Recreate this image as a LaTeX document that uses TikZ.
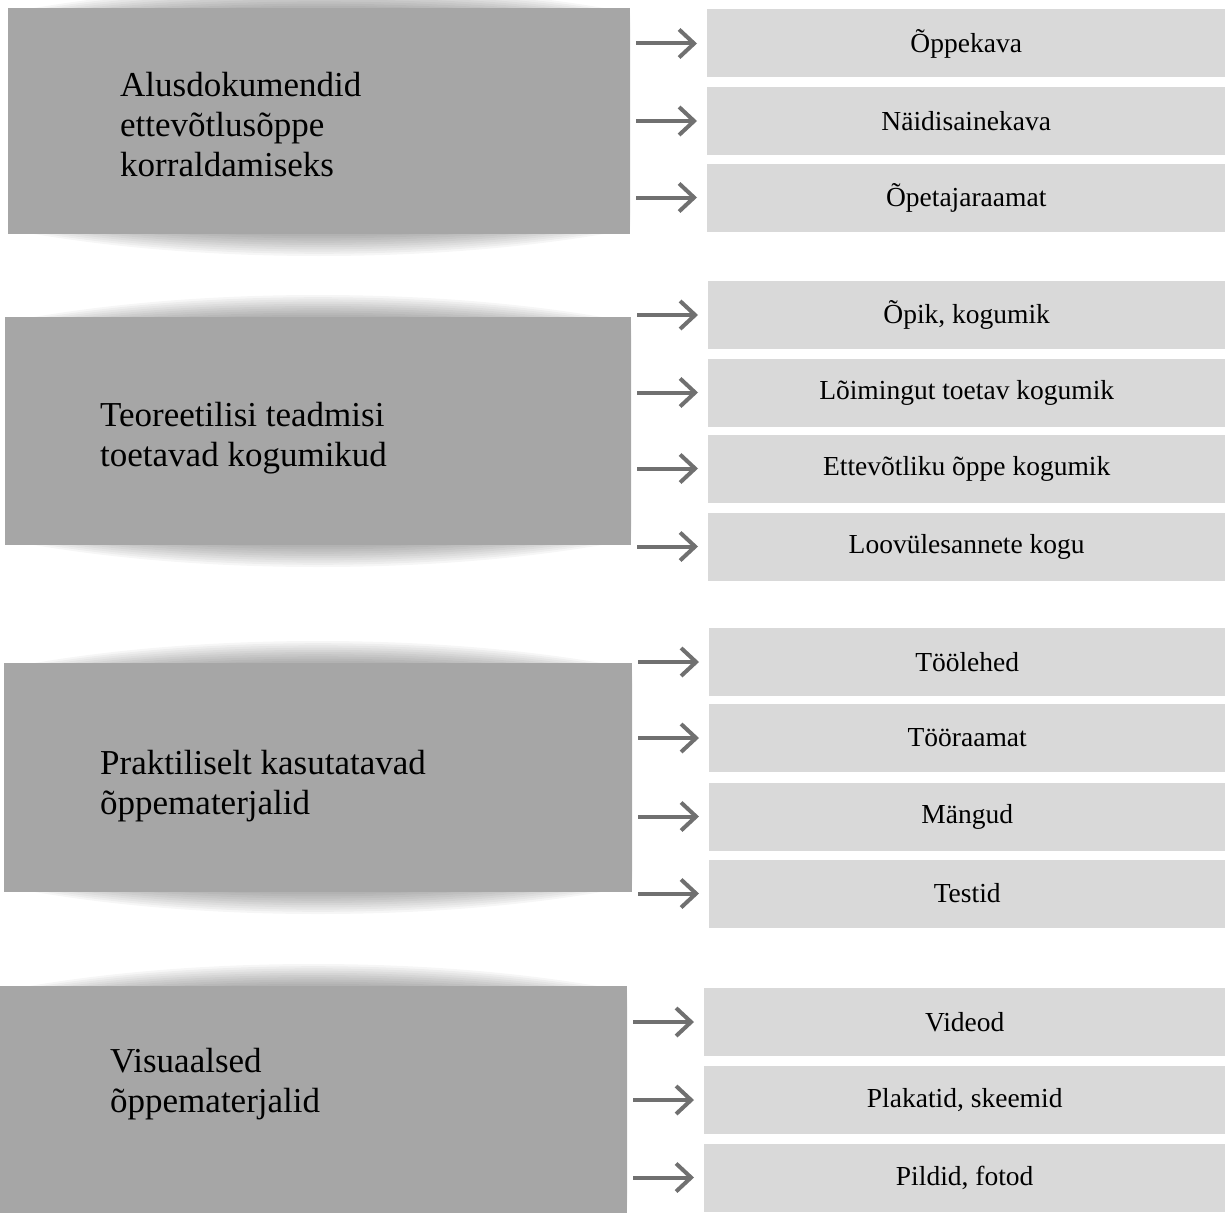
\documentclass[tikz,border=0pt]{standalone}
\usepackage{fontspec}
\setmainfont{Liberation Serif}
\usetikzlibrary{arrows.meta}
\definecolor{boxgray}{HTML}{A6A6A6}
\definecolor{itemgray}{HTML}{D9D9D9}
\definecolor{arrowgray}{HTML}{707070}

\begin{document}
\begin{tikzpicture}[x=1pt,y=-1pt,
  lbox/.style={fill=boxgray, inner sep=0pt},
  halo/.style={black, fill opacity=0.035},
  rbox/.style={fill=itemgray, inner sep=0pt, minimum height=68pt, font=\fontsize{27.5}{31}\selectfont},
  ltext/.style={anchor=west, align=left, inner sep=0pt, font=\fontsize{35}{40}\selectfont},
  arr/.style={arrowgray, line width=4pt, shorten <=6pt, shorten >=10pt, -{Straight Barb[length=15pt,width=28pt]}}]

\useasboundingbox (0,0) rectangle (1225,1212);

\foreach \n/\cx/\cy/\w/\h in {L1/319/121/622/226, L2/318/431/626/228, L3/318/777.5/628/229, L4/313.5/1100/627/228} {
  \begin{scope}
    \clip (\cx-\w/2,\cy-\h/2-40) rectangle (\cx+\w/2,\cy+\h/2+40);
    \foreach \i in {0,...,9} {
      \pgfmathsetmacro\ry{\h/2+22-2.2*\i}
      \fill[halo] (\cx,\cy) ellipse (520pt and \ry pt);
    }
  \end{scope}
  \node[lbox, minimum width=\w pt, minimum height=\h pt] (\n) at (\cx,\cy) {};
}

\node[ltext] (T1) at (120,125) {Alusdokumendid\\ettevõtlusõppe\\korraldamiseks};
\node[ltext] (T2) at (100,438) {Teoreetilisi teadmisi\\toetavad kogumikud};
\node[ltext] (T3) at (100,786) {Praktiliselt kasutatavad\\õppematerjalid};
\node[ltext] (T4) at (110,1084) {Visuaalsed\\õppematerjalid};

\foreach \n/\x/\y/\t in {R11/707/43.5/Õppekava, R12/707/121/Näidisainekava, R13/707/197.5/Õpetajaraamat,
    R21/708/315/{Õpik, kogumik}, R22/708/392.5/Lõimingut toetav kogumik, R23/708/468.5/Ettevõtliku õppe kogumik, R24/708/546.5/Loovülesannete kogu,
    R31/709/662/Töölehed, R32/709/738/Tööraamat, R33/709/816.5/Mängud, R34/709/893.5/Testid,
    R41/704/1022/Videod, R42/704/1100/{Plakatid, skeemid}, R43/704/1177.5/{Pildid, fotod}}
  \node[rbox, anchor=west, minimum width={(1225-\x)*1pt}] (\n) at (\x,\y) {\t};

\foreach \l/\r in {L1/R11, L1/R12, L1/R13, L2/R21, L2/R22, L2/R23, L2/R24,
    L3/R31, L3/R32, L3/R33, L3/R34, L4/R41, L4/R42, L4/R43}
  \draw[arr] (\l.east |- \r.west) -- (\r.west);

\end{tikzpicture}
\end{document}
